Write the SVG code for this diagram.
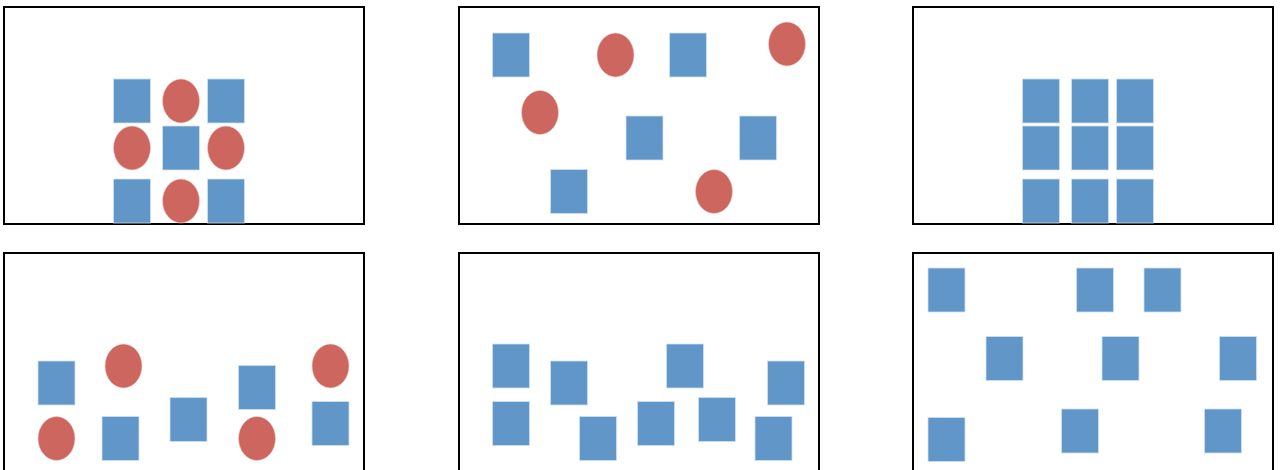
<svg xmlns="http://www.w3.org/2000/svg" width="1280" height="470" viewBox="0 0 1280 470">
<style>
.frame{fill:#fff;stroke:#000;stroke-width:2}
.sq{fill:#6196C9;stroke:#cfe0f0;stroke-width:0.8}
.ci{fill:#CC665E;stroke:#f0d0cc;stroke-width:0.6}
</style>
<rect width="1280" height="470" fill="#fff"/>
<g id="panel1">
<rect class="frame" x="4" y="7" width="360" height="217"/>
<rect class="sq" x="113.5" y="79" width="37" height="44"/>
<ellipse class="ci" cx="181" cy="101" rx="18.5" ry="22"/>
<rect class="sq" x="207.5" y="79" width="37" height="44"/>
<ellipse class="ci" cx="132" cy="148" rx="18.5" ry="22"/>
<rect class="sq" x="162.5" y="126" width="37" height="44"/>
<ellipse class="ci" cx="226" cy="148" rx="18.5" ry="22"/>
<rect class="sq" x="113.5" y="179" width="37" height="44"/>
<ellipse class="ci" cx="181" cy="201" rx="18.5" ry="22"/>
<rect class="sq" x="207.5" y="179" width="37" height="44"/>
</g>
<g id="panel2">
<rect class="frame" x="459" y="7" width="360" height="217"/>
<rect class="sq" x="492.5" y="33" width="37" height="44"/>
<ellipse class="ci" cx="615.5" cy="55" rx="18.5" ry="22"/>
<rect class="sq" x="669.5" y="33" width="37" height="44"/>
<ellipse class="ci" cx="787" cy="44" rx="18.5" ry="22"/>
<ellipse class="ci" cx="540" cy="112.5" rx="18.5" ry="22"/>
<rect class="sq" x="626" y="116" width="37" height="44"/>
<rect class="sq" x="739.5" y="116" width="37" height="44"/>
<rect class="sq" x="550.5" y="169.5" width="37" height="44"/>
<ellipse class="ci" cx="714" cy="191.5" rx="18.5" ry="22"/>
</g>
<g id="panel3">
<rect class="frame" x="913" y="7" width="360" height="217"/>
<rect class="sq" x="1022.5" y="79" width="37" height="44"/>
<rect class="sq" x="1071.5" y="79" width="37" height="44"/>
<rect class="sq" x="1116.5" y="79" width="37" height="44"/>
<rect class="sq" x="1022.5" y="126" width="37" height="44"/>
<rect class="sq" x="1071.5" y="126" width="37" height="44"/>
<rect class="sq" x="1116.5" y="126" width="37" height="44"/>
<rect class="sq" x="1022.5" y="179" width="37" height="44"/>
<rect class="sq" x="1071.5" y="179" width="37" height="44"/>
<rect class="sq" x="1116.5" y="179" width="37" height="44"/>
</g>
<g id="panel4">
<rect class="frame" x="4" y="253" width="360" height="218"/>
<rect class="sq" x="38" y="361" width="37" height="44"/>
<ellipse class="ci" cx="123.5" cy="366" rx="18.5" ry="22"/>
<rect class="sq" x="170" y="397.5" width="37" height="44"/>
<rect class="sq" x="238.5" y="365.5" width="37" height="44"/>
<ellipse class="ci" cx="330.5" cy="366" rx="18.5" ry="22"/>
<ellipse class="ci" cx="56.5" cy="438.5" rx="18.5" ry="22"/>
<rect class="sq" x="102" y="416.5" width="37" height="44"/>
<ellipse class="ci" cx="257" cy="438.5" rx="18.5" ry="22"/>
<rect class="sq" x="312" y="401.5" width="37" height="44"/>
</g>
<g id="panel5">
<rect class="frame" x="459" y="253" width="360" height="218"/>
<rect class="sq" x="492.5" y="344" width="37" height="44"/>
<rect class="sq" x="550.5" y="361" width="37" height="44"/>
<rect class="sq" x="666.5" y="344" width="37" height="44"/>
<rect class="sq" x="767.5" y="361" width="37" height="44"/>
<rect class="sq" x="492.5" y="401.5" width="37" height="44"/>
<rect class="sq" x="579.5" y="416.5" width="37" height="44"/>
<rect class="sq" x="637.5" y="401.5" width="37" height="44"/>
<rect class="sq" x="698.5" y="397.5" width="37" height="44"/>
<rect class="sq" x="755" y="416.5" width="37" height="44"/>
</g>
<g id="panel6">
<rect class="frame" x="913" y="253" width="360" height="218"/>
<rect class="sq" x="928" y="268" width="37" height="44"/>
<rect class="sq" x="1076.5" y="268" width="37" height="44"/>
<rect class="sq" x="1144" y="268" width="37" height="44"/>
<rect class="sq" x="986" y="336.5" width="37" height="44"/>
<rect class="sq" x="1102" y="336.5" width="37" height="44"/>
<rect class="sq" x="1219.5" y="336.5" width="37" height="44"/>
<rect class="sq" x="928" y="417.5" width="37" height="44"/>
<rect class="sq" x="1061.5" y="409" width="37" height="44"/>
<rect class="sq" x="1204.5" y="409" width="37" height="44"/>
</g>
<g id="connectors"></g>
</svg>
